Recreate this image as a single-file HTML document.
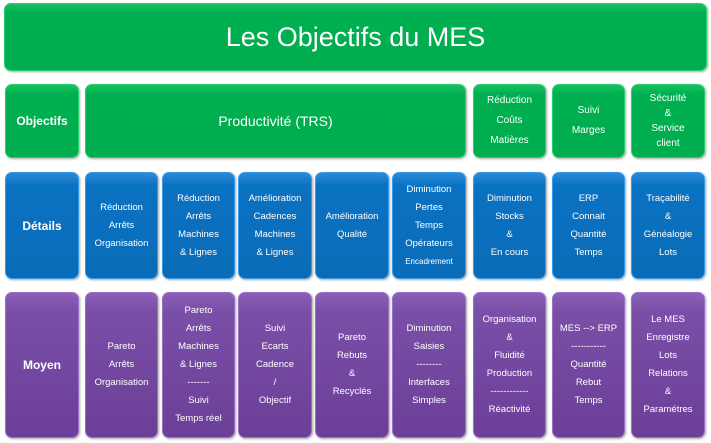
<!DOCTYPE html>
<html><head><meta charset="utf-8"><style>
body{margin:0;width:711px;height:443px;background:#fff;position:relative;overflow:hidden;font-family:"Liberation Sans",sans-serif}
.b{position:absolute;box-sizing:border-box;border-radius:7px;color:#fff;display:flex;align-items:center;justify-content:center;text-align:center;font-size:10px;line-height:18px;box-shadow:1px 1px 2px rgba(0,0,0,.35)}
.g{background:linear-gradient(#18c060,#00b050 12%,#00ad4f);border:1px solid #2ccf70}
.u{background:linear-gradient(#2a8ad8,#0a72c2 12%,#0a6cb8);border:1px solid #3a9ae8;font-size:9.5px}
.p{background:linear-gradient(#8c60b8,#7a4fa8 12%,#6b3f98);border:1px solid #9a70c8;font-size:9.5px}
.h{font-weight:bold;font-size:12px}
</style></head><body>
<div class="b g" style="left:4px;top:3px;width:703px;height:68px;font-size:27px;line-height:30px"><div>Les Objectifs du MES</div></div>

<div class="b g h" style="left:5px;top:84px;width:74px;height:74px"><div>Objectifs</div></div>
<div class="b g" style="left:85px;top:84px;width:381px;height:74px;font-size:14px"><div>Productivité (TRS)</div></div>
<div class="b g" style="left:473px;top:84px;width:73px;height:74px;line-height:20px"><div>Réduction<br>Coûts<br>Matières</div></div>
<div class="b g" style="left:552px;top:84px;width:73px;height:74px;line-height:20px"><div>Suivi<br>Marges</div></div>
<div class="b g" style="left:631px;top:84px;width:74px;height:74px;line-height:15px"><div>Sécurité<br>&amp;<br>Service<br>client</div></div>

<div class="b u h" style="left:5px;top:172px;width:74px;height:107px"><div>Détails</div></div>
<div class="b u" style="left:85px;top:172px;width:73px;height:107px"><div>Réduction<br>Arrêts<br>Organisation</div></div>
<div class="b u" style="left:162px;top:172px;width:73px;height:107px"><div>Réduction<br>Arrêts<br>Machines<br>&amp; Lignes</div></div>
<div class="b u" style="left:238px;top:172px;width:74px;height:107px"><div>Amélioration<br>Cadences<br>Machines<br>&amp; Lignes</div></div>
<div class="b u" style="left:315px;top:172px;width:74px;height:107px"><div>Amélioration<br>Qualité</div></div>
<div class="b u" style="left:392px;top:172px;width:74px;height:107px"><div>Diminution<br>Pertes<br>Temps<br>Opérateurs<br><span style="font-size:8px">Encadrement</span></div></div>
<div class="b u" style="left:473px;top:172px;width:73px;height:107px"><div>Diminution<br>Stocks<br>&amp;<br>En cours</div></div>
<div class="b u" style="left:552px;top:172px;width:73px;height:107px"><div>ERP<br>Connait<br>Quantité<br>Temps</div></div>
<div class="b u" style="left:631px;top:172px;width:74px;height:107px"><div>Traçabilité<br>&amp;<br>Généalogie<br>Lots</div></div>

<div class="b p h" style="left:5px;top:292px;width:74px;height:146px"><div>Moyen</div></div>
<div class="b p" style="left:85px;top:292px;width:73px;height:146px"><div>Pareto<br>Arrêts<br>Organisation</div></div>
<div class="b p" style="left:162px;top:292px;width:73px;height:146px"><div>Pareto<br>Arrêts<br>Machines<br>&amp; Lignes<br>-------<br>Suivi<br>Temps réel</div></div>
<div class="b p" style="left:238px;top:292px;width:74px;height:146px"><div>Suivi<br>Ecarts<br>Cadence<br>/<br>Objectif</div></div>
<div class="b p" style="left:315px;top:292px;width:74px;height:146px"><div>Pareto<br>Rebuts<br>&amp;<br>Recyclés</div></div>
<div class="b p" style="left:392px;top:292px;width:74px;height:146px"><div>Diminution<br>Saisies<br>--------<br>Interfaces<br>Simples</div></div>
<div class="b p" style="left:473px;top:292px;width:73px;height:146px"><div>Organisation<br>&amp;<br>Fluidité<br>Production<br>------------<br>Réactivité</div></div>
<div class="b p" style="left:552px;top:292px;width:73px;height:146px"><div>MES --&gt; ERP<br>-----------<br>Quantité<br>Rebut<br>Temps</div></div>
<div class="b p" style="left:631px;top:292px;width:74px;height:146px"><div>Le MES<br>Enregistre<br>Lots<br>Relations<br>&amp;<br>Paramétres</div></div>
</body></html>
